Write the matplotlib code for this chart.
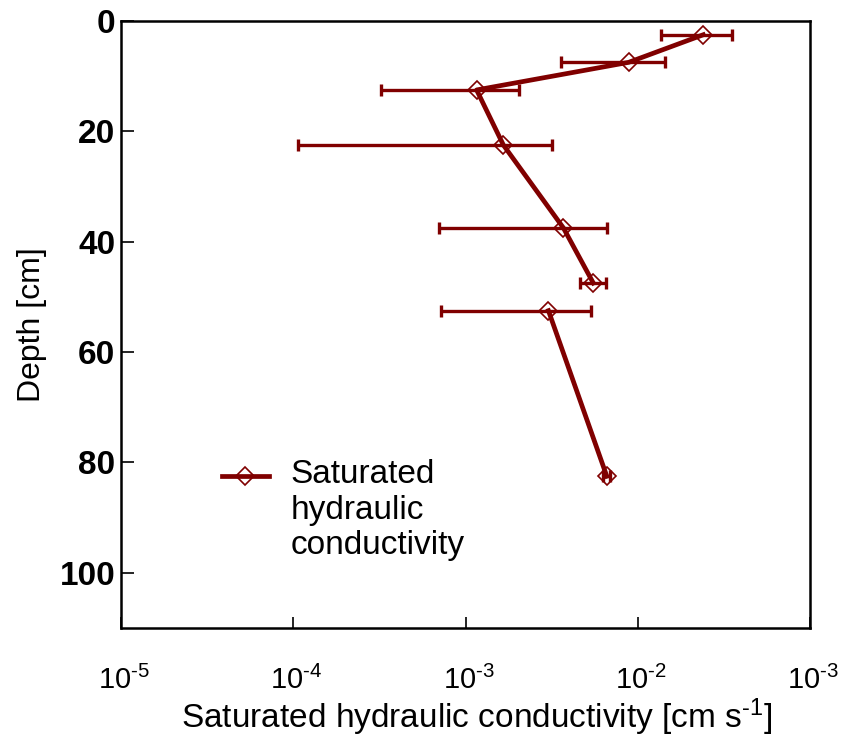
import matplotlib
matplotlib.use("Agg")
import matplotlib.pyplot as plt
import matplotlib.transforms as mtransforms
from matplotlib.ticker import FixedLocator, FixedFormatter, NullLocator

plt.rcParams["font.family"] = ["Liberation Sans", "DejaVu Sans"]
plt.rcParams["mathtext.fontset"] = "custom"
plt.rcParams["mathtext.rm"] = "Liberation Sans"
plt.rcParams["mathtext.default"] = "regular"

# depth of each sample layer (cm) and Ks with lower/upper bounds (cm s-1)
depth = [2.5, 7.5, 12.5, 22.5, 37.5, 47.5, 52.5, 82.5]
ks = [0.0240, 0.00885, 0.00116, 0.00166, 0.00370, 0.00552, 0.00303, 0.00661]
ks_lo = [0.01358, 0.00360, 0.000323, 0.0001062, 0.000705, 0.00462, 0.000718, 0.00627]
ks_hi = [0.0351, 0.01439, 0.00205, 0.00319, 0.00661, 0.00655, 0.00533, 0.00690]
# profile line is broken between the upper (0-50 cm) and lower part
n_upper = 6

xticks = [1e-5, 1e-4, 1e-3, 1e-2, 1e-1]
xticklabels = [r"$10^{\text{-}5}$", r"$10^{\text{-}4}$", r"$10^{\text{-}3}$",
               r"$10^{\text{-}2}$", r"$10^{\text{-}3}$"]
yticks = [0, 20, 40, 60, 80, 100]

RED = "#800000"

fig = plt.figure(figsize=(8.45, 7.38), dpi=100)
ax = fig.add_axes([0.1432, 0.1491, 0.8154, 0.8225])

err = [[k - lo for k, lo in zip(ks, ks_lo)], [hi - k for k, hi in zip(ks, ks_hi)]]
ax.errorbar(ks, depth, xerr=err, fmt="none", ecolor=RED, elinewidth=2.4,
            capsize=4.5, capthick=2.4, zorder=2)
line_kw = dict(color=RED, lw=3.4, marker="D", ms=9, mfc="none", mec=RED,
               mew=1.2, zorder=3)
ax.plot(ks[:n_upper], depth[:n_upper],
        label="Saturated\nhydraulic\nconductivity", **line_kw)
ax.plot(ks[n_upper:], depth[n_upper:], **line_kw)

ax.set_xscale("log")
ax.set_xlim(1e-5, 1e-1)
ax.set_ylim(110, 0)
ax.xaxis.set_major_locator(FixedLocator(xticks))
ax.xaxis.set_major_formatter(FixedFormatter(xticklabels))
ax.xaxis.set_minor_locator(NullLocator())
ax.set_yticks(yticks)

ax.tick_params(axis="x", direction="in", length=8, width=1.2, pad=27, labelsize=21)
ax.tick_params(axis="y", direction="in", length=9, width=1.2, pad=4, labelsize=24)
for t in ax.get_yticklabels():
    t.set_fontweight("bold")
# nudge the decade labels slightly right of their ticks
shift = mtransforms.ScaledTranslation(0.03, 0, fig.dpi_scale_trans)
for t in ax.get_xticklabels():
    t.set_transform(t.get_transform() + shift)
for s in ax.spines.values():
    s.set_linewidth(1.8)

ax.set_xlabel(r"Saturated hydraulic conductivity [cm s$^{\text{-}1}$]",
              fontsize=24, labelpad=0)
ax.xaxis.set_label_coords(0.516, -0.113)
ax.set_ylabel("Depth [cm]", fontsize=23, labelpad=9)

fs = 24
leg = ax.legend(loc="upper left", bbox_to_anchor=(0.103, 0.328), frameon=False,
                fontsize=fs, handlelength=1.4, handletextpad=0.66)
# put the key beside the first line of the label
h = leg.legend_handles[0]
h.set_ydata([y + 25 for y in h.get_ydata()])

fig.savefig("out.png", dpi=100)
